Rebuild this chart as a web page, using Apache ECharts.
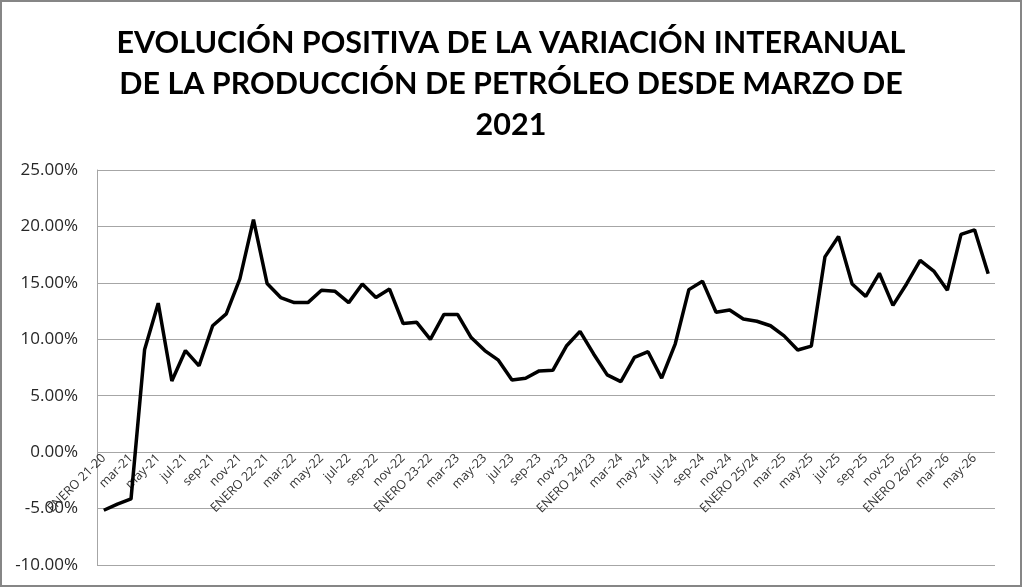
<!DOCTYPE html>
<html>
<head>
<meta charset="utf-8">
<script src="https://cdn.jsdelivr.net/npm/echarts@6/dist/echarts.min.js"></script>
<style>
	html, body { margin: 0; padding: 0; background: #fff; }
	#chart { width: 1022px; height: 587px; box-sizing: border-box; border: 2px solid #868686; }
</style>
</head>
<body>
<div id="chart"></div>
<script>
// categorias (meses) tal como aparecen en el eje
var categorias = [
	"ENERO 21-20", "feb-21", "mar-21", "abr-21", "may-21", "jun-21", "jul-21", "ago-21", "sep-21", "oct-21", "nov-21", "dic-21",
	"ENERO 22-21", "feb-22", "mar-22", "abr-22", "may-22", "jun-22", "jul-22", "ago-22", "sep-22", "oct-22", "nov-22", "dic-22",
	"ENERO 23-22", "feb-23", "mar-23", "abr-23", "may-23", "jun-23", "jul-23", "ago-23", "sep-23", "oct-23", "nov-23", "dic-23",
	"ENERO 24/23", "feb-24", "mar-24", "abr-24", "may-24", "jun-24", "jul-24", "ago-24", "sep-24", "oct-24", "nov-24", "dic-24",
	"ENERO 25/24", "feb-25", "mar-25", "abr-25", "may-25", "jun-25", "jul-25", "ago-25", "sep-25", "oct-25", "nov-25", "dic-25",
	"ENERO 26/25", "feb-26", "mar-26", "abr-26", "may-26", "jun-26"
];

// variacion interanual (%)
var variacion = [
	-5.15, -4.6, -4.15, 9.1, 13.2, 6.3, 9.0, 7.65, 11.2, 12.25, 15.35, 20.6,
	14.95, 13.7, 13.25, 13.25, 14.35, 14.25, 13.25, 14.9, 13.7, 14.45, 11.4, 11.5,
	10.0, 12.2, 12.2, 10.15, 9.0, 8.15, 6.4, 6.55, 7.2, 7.25, 9.4, 10.7,
	8.7, 6.85, 6.25, 8.4, 8.9, 6.55, 9.6, 14.4, 15.15, 12.4, 12.6, 11.8,
	11.6, 11.2, 10.3, 9.05, 9.4, 17.3, 19.1, 14.9, 13.8, 15.85, 13.0, 14.9,
	17.0, 16.05, 14.35, 19.3, 19.7, 15.8
];

var titulo = "EVOLUCIÓN POSITIVA DE LA VARIACIÓN INTERANUAL\nDE LA PRODUCCIÓN DE PETRÓLEO DESDE MARZO DE\n2021";
var ejeMin = -10, ejeMax = 25, ejePaso = 5;

var alto = 587 - 4 - 168 - 20;   // alto del area de trazado
// el eje de categorias cruza en 0: se sube desde el borde inferior
var desplazamiento = -alto * (0 - ejeMin) / (ejeMax - ejeMin);

var myChart = echarts.init(document.getElementById("chart"));
myChart.setOption({
	animation: false,
	title: {
		text: titulo,
		left: "center",
		top: 16,
		textStyle: {
			fontFamily: "Lato",
			fontWeight: "bold",
			fontSize: 30.5,
			lineHeight: 41,
			color: "#000"
		}
	},
	grid: { left: 95, right: 25, top: 168, bottom: 20, outerBoundsMode: "none", containLabel: false },
	xAxis: {
		type: "category",
		data: categorias,
		boundaryGap: true,
		offset: desplazamiento,
		axisLine: { show: false, onZero: false },
		axisTick: { show: false },
		axisLabel: {
			interval: 1,
			rotate: 45,
			margin: 4,
			fontFamily: "Open Sans",
			fontSize: 12.5,
			color: "#333"
		},
		splitLine: { show: false }
	},
	yAxis: {
		type: "value",
		min: ejeMin,
		max: ejeMax,
		interval: ejePaso,
		axisLine: { show: true, lineStyle: { color: "#a6a6a6", width: 1 } },
		axisTick: { show: false },
		axisLabel: {
			margin: 19,
			fontFamily: "Open Sans",
			fontSize: 17,
			color: "#262626",
			formatter: function (v) { return v.toFixed(2) + "%"; }
		},
		splitLine: { show: true, lineStyle: { color: "#a6a6a6", width: 1 } }
	},
	series: [{
		type: "line",
		data: variacion,
		showSymbol: false,
		symbol: "none",
		lineStyle: { color: "#000", width: 3.5 },
		itemStyle: { color: "#000" }
	}]
});
</script>
</body>
</html>
